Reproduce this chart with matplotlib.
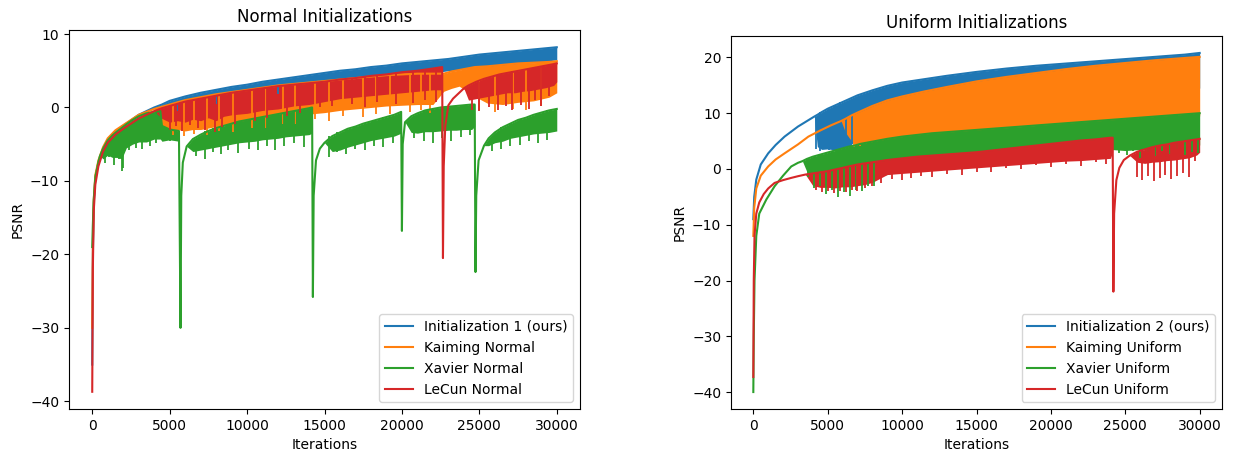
import numpy as np
import matplotlib
matplotlib.use("Agg")
import matplotlib.pyplot as plt

# ---- Normal initializations (left) ----
# per run: iteration, top of the noisy band, bottom of its dense part,
# then the deeper single dips (iteration, lowest psnr)
n_init1_x = [0, 40, 100, 200, 400, 700, 1000, 1500, 2000, 3000, 4000, 4500, 5000,
             6000, 7000, 8000, 9000, 10000, 11000, 12000, 13000, 14000, 15000, 16000,
             17000, 18000, 19000, 20000, 21000, 22000, 23000, 24000, 25000, 26000,
             27000, 28000, 29000, 30000]
n_init1_hi = [-35, -20, -13, -9.5, -7.5, -5.6, -4.4, -3.3, -2.5, -1.0, 0.0, 0.4, 0.9,
              1.5, 2.0, 2.4, 2.8, 3.1, 3.5, 3.8, 4.1, 4.4, 4.7, 5.0,
              5.2, 5.5, 5.7, 6.0, 6.2, 6.4, 6.6, 6.9, 7.2, 7.4,
              7.6, 7.8, 8.0, 8.2]
n_init1_lo = [-35, -20, -13, -9.5, -7.5, -5.6, -4.4, -3.3, -2.5, -1.0, 0.0, -1.2, -0.8,
              -0.2, 0.3, 0.6, 1.0, 1.3, 1.7, 2.0, 2.3, 2.6, 3.0, 3.3,
              3.5, 3.8, 4.0, 4.3, 4.5, 4.7, 5.0, 5.2, 5.5, 5.6,
              5.8, 6.0, 6.2, 6.5]
n_init1_dip_x = [5500, 8000, 12000, 26500, 28000]
n_init1_dip = [-0.5, 0.5, 1.8, 5.8, 6.0]

n_kaiming_x = [0, 40, 100, 200, 400, 700, 1000, 1500, 2000, 3000,
               4000, 4500, 5000, 5500, 6000, 6500, 7000, 7500, 8000,
               9000, 10000, 11000, 12000, 13000, 14000, 15000, 16000, 17000, 18000,
               19000, 20000, 21000, 22000,
               22700, 23200, 23700, 24200, 24700,
               25500, 26500, 27500, 28500, 29500, 30000]
n_kaiming_hi = [-30, -19, -12.5, -9.2, -7.2, -5.4, -4.2, -3.1, -2.4, -1.0,
                -0.2, 0.1, 0.4, 0.7, 1.0, 1.2, 1.4, 1.6, 1.8,
                2.1, 2.4, 2.7, 3.0, 3.2, 3.4, 3.6, 3.8, 4.0, 4.2,
                4.4, 4.5, 4.6, 4.6,
                4.6, 4.9, 5.1, 5.3, 5.5,
                5.6, 5.8, 6.0, 6.1, 6.2, 6.3]
n_kaiming_lo = [-30, -19, -12.5, -9.2, -7.2, -5.4, -4.2, -3.1, -2.4, -1.0,
                -0.2, -2.5, -3.0, -3.0, -3.2, -3.0, -3.0, -2.8, -2.6,
                -2.4, -2.0, -1.8, -1.4, -1.2, -0.9, -0.7, -0.4, -0.2, 0.0,
                0.2, 0.3, 0.4, 0.4,
                2.2, 2.6, 2.9, 2.2, 1.5,
                0.6, 0.4, 0.7, 0.9, 1.4, 2.0]
n_kaiming_dip_x = [5200, 5900, 6600, 7400, 8200, 9100, 10300, 11200, 12300, 13100,
                   14400, 15300, 16200, 17500, 18300, 19200, 20500, 21200, 21800,
                   25000, 26000, 27200, 28000, 29000]
n_kaiming_dip = [-3.8, -3.9, -3.6, -3.8, -3.2, -3.4, -2.8, -2.8, -2.2, -2.3,
                 -1.6, -1.8, -1.2, -1.3, -0.9, -0.9, -0.6, -0.3, -0.8,
                 -0.4, -0.6, -0.2, -0.4, 0.2]

n_xavier_x = [0, 40, 100, 200, 400, 500,
              700, 1000, 1300, 1600, 1900, 2200, 2600, 3000, 3500, 4000, 4400, 4500, 5000, 5600,
              5700, 5750, 5850, 6100,
              6500, 7000, 7500, 8000, 8500, 9000, 9500, 10000, 10500, 11000, 11500, 12000,
              12500, 13000, 13500, 14000, 14200,
              14250, 14300, 14450, 14700, 15000,
              15500, 16000, 16500, 17000, 17500, 18000, 18500, 19000, 19500, 19950,
              20000, 20050, 20200,
              20600, 21000, 21500, 22000, 22500, 23000, 23500, 24000, 24500, 24700,
              24750, 24800, 24950, 25300,
              25600, 26000, 26500, 27000, 27500, 28000, 28500, 29000, 29500, 30000]
n_xavier_hi = [-19, -16, -12.5, -9.5, -7.4, -6.6,
               -5.6, -4.5, -3.8, -3.3, -2.8, -2.3, -1.7, -1.2, -0.8, -0.6, -0.5, -2.5, -3.0, -3.2,
               -30, -12, -7.5, -5.3,
               -4.3, -3.7, -3.2, -2.8, -2.5, -2.2, -1.9, -1.7, -1.5, -1.3, -1.1, -0.9,
               -0.7, -0.5, -0.3, -0.1, 0.0,
               -25.8, -12, -7.2, -5.6, -4.8,
               -3.9, -3.4, -2.9, -2.6, -2.2, -1.9, -1.6, -1.3, -1.0, -0.6,
               -16.8, -5.0, -2.0,
               -1.2, -0.8, -0.4, -0.2, 0.0, 0.1, 0.2, 0.3, 0.4, 0.4,
               -22.4, -12, -7.2, -5.2,
               -4.2, -3.4, -2.7, -2.2, -1.7, -1.4, -1.0, -0.7, -0.4, -0.2]
n_xavier_lo = [-19, -16, -12.5, -9.5, -7.4, -6.6,
               -7.0, -6.5, -6.8, -6.8, -7.0, -5.5, -5.0, -4.7, -4.7, -4.3, -4.3, -4.6, -4.4, -4.6,
               -30, -12, -7.5, -5.3,
               -6.0, -5.8, -5.6, -5.4, -5.2, -5.0, -4.8, -4.7, -4.6, -4.4, -4.3, -4.2,
               -4.0, -3.9, -3.8, -3.7, -3.5,
               -25.8, -12, -7.2, -5.6, -4.8,
               -6.0, -5.8, -5.4, -5.1, -4.8, -4.5, -4.3, -4.1, -3.9, -3.5,
               -16.8, -5.0, -2.0,
               -3.4, -3.5, -3.3, -3.3, -3.2, -3.1, -3.1, -3.0, -3.0, -2.6,
               -22.4, -12, -7.2, -5.2,
               -5.2, -4.8, -4.6, -4.2, -4.0, -3.8, -3.6, -3.5, -3.4, -3.2]
n_xavier_dip_x = [800, 1100, 1400, 1700, 1900, 2000, 2400, 2800, 3200, 3700, 4100, 5000,
                  6700, 7300, 7800, 8300, 8800, 9400, 10100, 10700, 11300, 11800, 12400,
                  13000, 13700,
                  15300, 15800, 16400, 17000, 17600, 18200, 18800, 19400,
                  20800, 21400, 22000, 22600, 23200, 23800, 24400,
                  25800, 26400, 27000, 27600, 28200, 28800, 29400]
n_xavier_dip = [-7.5, -6.8, -7.8, -7.0, -8.7, -8.2, -5.8, -5.5, -5.6, -5.2, -4.8, -4.6,
                -6.6, -7.0, -6.0, -6.4, -5.8, -6.2, -5.6, -5.8, -5.2, -5.8, -5.2,
                -4.8, -5.4,
                -6.8, -6.0, -6.4, -5.6, -5.8, -5.2, -5.4, -4.8,
                -4.2, -4.6, -4.8, -4.2, -4.5, -4.0, -3.8,
                -5.9, -5.6, -5.2, -5.1, -4.6, -4.9, -4.4]

n_lecun_x = [0, 40, 100, 200, 400, 700, 1000, 1500, 2000, 3000, 4000,
             4500, 5000, 5500, 6000, 6500, 7000, 7500, 8000, 8500, 9000,
             10000, 11000, 12000, 13000, 14000, 15000, 16000, 17000, 18000, 19000,
             20000, 21000, 22000, 22600,
             22650, 22700, 22800, 23000, 23300, 23700, 24000,
             24300, 24800, 25300, 25800, 26300, 26800, 27300, 27800, 28300, 28800,
             29300, 29800, 30000]
n_lecun_hi = [-38.7, -22, -14, -10.5, -8, -6, -4.8, -3.7, -2.9, -1.5, -0.5,
              -0.1, 0.2, 0.5, 0.8, 1.0, 1.2, 1.4, 1.6, 1.8, 2.0,
              2.3, 2.6, 2.9, 3.1, 3.3, 3.5, 3.8, 4.0, 4.3, 4.5,
              4.8, 5.0, 5.3, 5.5,
              -20.5, -8, -2.5, 0.3, 1.2, 2.0, 2.6,
              3.0, 3.5, 3.9, 4.2, 4.5, 4.7, 4.9, 5.1, 5.3, 5.5,
              5.7, 5.9, 6.0]
n_lecun_lo = [-38.7, -22, -14, -10.5, -8, -6, -4.8, -3.7, -2.9, -1.5, -0.5,
              -1.5, -2.0, -1.8, -2.0, -1.6, -1.8, -1.4, -1.8, -1.2, -1.0,
              -0.8, -0.4, -0.2, 0.2, 0.4, 0.8, 1.2, 1.4, 1.6, 1.8,
              2.0, 2.2, 2.4, 2.4,
              -20.5, -8, -2.5, 0.3, 1.2, 2.0, 2.6,
              1.0, 1.2, 1.4, 1.6, 1.8, 2.0, 2.0, 2.2, 2.3, 2.5,
              2.7, 3.0, 3.5]
n_lecun_dip_x = [5000, 5400, 5800, 6300, 6800, 7300, 7900, 8400, 9200, 10500, 11300,
                 12600, 13400, 14700, 15500, 16800, 17600, 18400, 19600, 20700, 21500,
                 22200, 24500, 25000, 25600, 26200, 26700, 27100, 27700, 28200, 28600,
                 29000, 29500]
n_lecun_dip = [-3.0, -2.5, -3.2, -2.4, -2.8, -3.0, -3.3, -2.6, -2.2, -1.8, -1.5,
               -1.2, -0.8, 0.0, 0.2, 0.5, 0.0, 0.8, 0.5, 0.6, 1.0,
               0.8, -0.3, -0.5, 0.0, -0.4, 0.2, -0.3, 0.3, -0.2, 1.0,
               0.2, 1.5]

# ---- Uniform initializations (right) ----
u_init2_x = [0, 60, 200, 500, 1000, 1500, 2100, 3000, 4100,
             4300, 4600, 5000, 5500, 6000, 6500, 7000, 8000, 9000, 10000,
             11500, 13000, 15000, 17000, 19000, 21000, 23000, 25000, 27000, 29000, 30000]
u_init2_hi = [-9, -5, -1.9, 0.8, 2.8, 4.3, 5.8, 7.6, 9.4,
              9.7, 10.2, 10.8, 11.4, 12.0, 12.6, 13.2, 14.1, 14.9, 15.5,
              16.1, 16.7, 17.4, 18.0, 18.5, 18.9, 19.3, 19.7, 20.1, 20.5, 20.8]
u_init2_lo = [-9, -5, -1.9, 0.8, 2.8, 4.3, 5.8, 7.6, 9.4,
              4.0, 3.5, 3.6, 3.4, 3.6, 4.0, 6.0, 7.0, 8.0, 9.0,
              9.5, 10.0, 10.5, 11.0, 11.5, 12.0, 12.5, 13.0, 13.5, 14.0, 14.5]
u_init2_dip_x = [4200, 4500, 4800, 5100, 5500, 5800, 6200, 6600]
u_init2_dip = [3.5, 3.3, 3.6, 3.4, 3.8, 3.5, 4.0, 4.5]

u_kaiming_x = [0, 60, 200, 500, 1000, 1500, 2100, 3000, 3700, 4500, 5200, 5900,
               6200, 6600, 7000, 8000, 9000, 10000, 11500, 13000, 15000, 17000, 19000,
               21000, 23000, 25000, 27000, 29000, 30000]
u_kaiming_hi = [-12, -7, -3.5, -1.2, 0.45, 1.7, 2.8, 4.4, 5.8, 6.9, 7.8, 8.6,
                9.0, 9.6, 10.1, 11.3, 12.3, 13.0, 13.9, 14.7, 15.7, 16.5, 17.2,
                17.9, 18.5, 19.0, 19.5, 19.9, 20.1]
u_kaiming_lo = [-12, -7, -3.5, -1.2, 0.45, 1.7, 2.8, 4.4, 5.8, 6.9, 7.8, 8.6,
                6.5, 5.0, 4.0, 4.3, 4.8, 5.2, 5.8, 6.3, 6.8, 7.3, 7.7,
                8.0, 8.4, 8.7, 9.0, 9.3, 9.5]
u_kaiming_dip_x = [6800, 7200]
u_kaiming_dip = [4.0, 4.2]

u_xavier_x = [0, 30, 80, 200, 400, 870, 1430, 2000, 2550, 3000,
              3300, 3600, 4000, 4400, 4800, 5200, 5600, 6000, 6400, 6800, 7200, 7600, 8000,
              9000, 10000, 11000, 12000, 13000, 14000, 15000, 16000, 17000, 18000, 19000,
              20000, 21000, 22000, 23000, 24000, 25000, 26000, 27000, 28000, 29000, 30000]
u_xavier_hi = [-40, -30, -20, -12, -8, -5.5, -3.1, -1.2, 0.45, 1.1,
               1.4, 1.8, 2.2, 2.5, 2.8, 3.1, 3.4, 3.7, 4.0, 4.2, 4.5, 4.7, 4.9,
               5.4, 5.8, 6.1, 6.4, 6.6, 6.8, 7.0, 7.2, 7.4, 7.6, 7.8,
               8.0, 8.2, 8.4, 8.6, 8.8, 9.0, 9.2, 9.4, 9.6, 9.8, 10.0]
u_xavier_lo = [-40, -30, -20, -12, -8, -5.5, -3.1, -1.2, 0.45, 1.1,
               1.4, -0.5, -1.8, -2.5, -3.0, -3.0, -3.2, -3.0, -3.0, -2.5, -2.5, -2.0, -1.5,
               -1.0, -0.5, 0.0, 0.5, 1.0, 1.3, 1.6, 1.9, 2.1, 2.3, 2.5,
               2.7, 2.9, 3.1, 3.3, 3.5, 3.3, 3.5, 3.7, 3.9, 4.1, 4.3]
u_xavier_dip_x = [3700, 4100, 4500, 4900, 5300, 5700, 6100, 6500, 6900, 7300, 7700, 8100,
                  24600, 25100, 25500, 26000, 26500, 27000, 27500, 28000, 28500, 29000,
                  29500, 29900]
u_xavier_dip = [-1.5, -3.5, -3.0, -4.5, -3.8, -5.0, -4.2, -4.8, -3.8, -4.0, -3.0, -3.0,
                2.8, 2.5, 3.2, 2.0, 3.0, 2.4, 3.3, 2.6, 3.5, 2.5,
                3.0, 2.8]

u_lecun_x = [0, 30, 80, 200, 400, 700, 1000, 1430, 2000, 2550, 3000, 3500,
             4000, 4500, 5000, 5500, 6000, 6500, 7000, 7500, 8000,
             9000, 10000, 11000, 12000, 13000, 14000, 15000, 16000, 17000, 18000,
             19000, 20000, 21000, 22000, 23000, 24000, 24150,
             24200, 24250, 24400, 24600, 24900, 25300,
             25800, 26300, 26800, 27300, 27800, 28300, 28800, 29300, 29800, 30000]
u_lecun_hi = [-37.3, -20, -12, -8, -6, -4.5, -3.5, -2.5, -2.0, -1.6, -1.3, -1.0,
              -0.8, -0.6, -0.4, -0.1, 0.2, 0.5, 0.8, 1.0, 1.2,
              1.6, 1.9, 2.2, 2.4, 2.6, 2.8, 3.0, 3.3, 3.6, 3.9,
              4.2, 4.5, 4.8, 5.1, 5.3, 5.6, 5.6,
              -22, -8, -2.0, 0.2, 1.6, 2.4,
              3.1, 3.5, 3.9, 4.2, 4.4, 4.7, 4.9, 5.1, 5.3, 5.4]
u_lecun_lo = [-37.3, -20, -12, -8, -6, -4.5, -3.5, -2.5, -2.0, -1.6, -1.3, -1.0,
              -3.0, -3.3, -3.3, -3.4, -3.2, -3.2, -3.0, -2.8, -2.4,
              -1.0, -0.8, -0.6, -0.4, -0.2, 0.0, 0.2, 0.4, 0.6, 0.8,
              1.0, 1.2, 1.4, 1.5, 1.7, 1.9, 3.0,
              -22, -8, -2.0, 0.2, 1.6, 2.4,
              1.2, 1.0, 1.2, 1.3, 1.5, 1.6, 1.8, 2.0, 2.5, 3.0]
u_lecun_dip_x = [4200, 4600, 5000, 5400, 5800, 6200, 6600, 7000, 7500, 8000, 8600,
                 9300, 10000, 10600, 11300, 12000, 13000, 14000, 15000, 16000, 17000,
                 18000, 19000, 20000, 21000, 22000, 23000, 23700,
                 25800, 26100, 26500, 26900, 27300, 27700, 28100, 28500, 28900, 29300,
                 29700]
u_lecun_dip = [-3.8, -4.2, -4.0, -4.4, -3.9, -4.2, -3.8, -4.0, -3.5, -3.0, -2.6,
               -1.8, -2.0, -1.6, -1.3, -1.4, -0.9, -1.1, -0.5, -0.6, 0.2,
               0.0, 0.7, 0.4, 0.9, 0.6, 1.2, 0.8,
               -1.5, -2.0, -1.2, -2.2, -1.6, -1.0, -1.8, -1.2, -0.8, -1.5,
               1.5]

left_labels = ['Initialization 1 (ours)', 'Kaiming Normal', 'Xavier Normal', 'LeCun Normal']
right_labels = ['Initialization 2 (ours)', 'Kaiming Uniform', 'Xavier Uniform', 'LeCun Uniform']
colors = ['tab:blue', 'tab:orange', 'tab:green', 'tab:red']


def draw_run(ax, x, hi, lo, dip_x, dip, color, label):
    # dense part of the oscillation as a band
    ax.fill_between(x, lo, hi, color=color, linewidth=0)
    # single deep dips hang from the top of the band at the nearest logged step
    idx = np.abs(np.subtract.outer(dip_x, x)).argmin(axis=1)
    ax.vlines(dip_x, dip, np.asarray(hi)[idx], color=color, linewidth=1.3)
    ax.plot(x, hi, color=color, label=label)


fig = plt.figure(figsize=(12.34, 4.55), dpi=100)
ax1 = fig.add_axes([69 / 1234, 1 - 409 / 455, 511 / 1234, 379 / 455])
ax2 = fig.add_axes([731 / 1234, 1 - 409 / 455, 491 / 1234, 373 / 455])

left_runs = [(n_init1_x, n_init1_hi, n_init1_lo, n_init1_dip_x, n_init1_dip),
             (n_kaiming_x, n_kaiming_hi, n_kaiming_lo, n_kaiming_dip_x, n_kaiming_dip),
             (n_xavier_x, n_xavier_hi, n_xavier_lo, n_xavier_dip_x, n_xavier_dip),
             (n_lecun_x, n_lecun_hi, n_lecun_lo, n_lecun_dip_x, n_lecun_dip)]
right_runs = [(u_init2_x, u_init2_hi, u_init2_lo, u_init2_dip_x, u_init2_dip),
              (u_kaiming_x, u_kaiming_hi, u_kaiming_lo, u_kaiming_dip_x, u_kaiming_dip),
              (u_xavier_x, u_xavier_hi, u_xavier_lo, u_xavier_dip_x, u_xavier_dip),
              (u_lecun_x, u_lecun_hi, u_lecun_lo, u_lecun_dip_x, u_lecun_dip)]

for run, c, lab in zip(left_runs, colors, left_labels):
    draw_run(ax1, *run, c, lab)
for run, c, lab in zip(right_runs, colors, right_labels):
    draw_run(ax2, *run, c, lab)

ax1.set_title('Normal Initializations')
ax2.set_title('Uniform Initializations')
for ax in (ax1, ax2):
    ax.set_xlabel('Iterations')
    ax.set_ylabel('PSNR')
    ax.legend(loc='lower right')

fig.savefig('out.png', dpi=100)
